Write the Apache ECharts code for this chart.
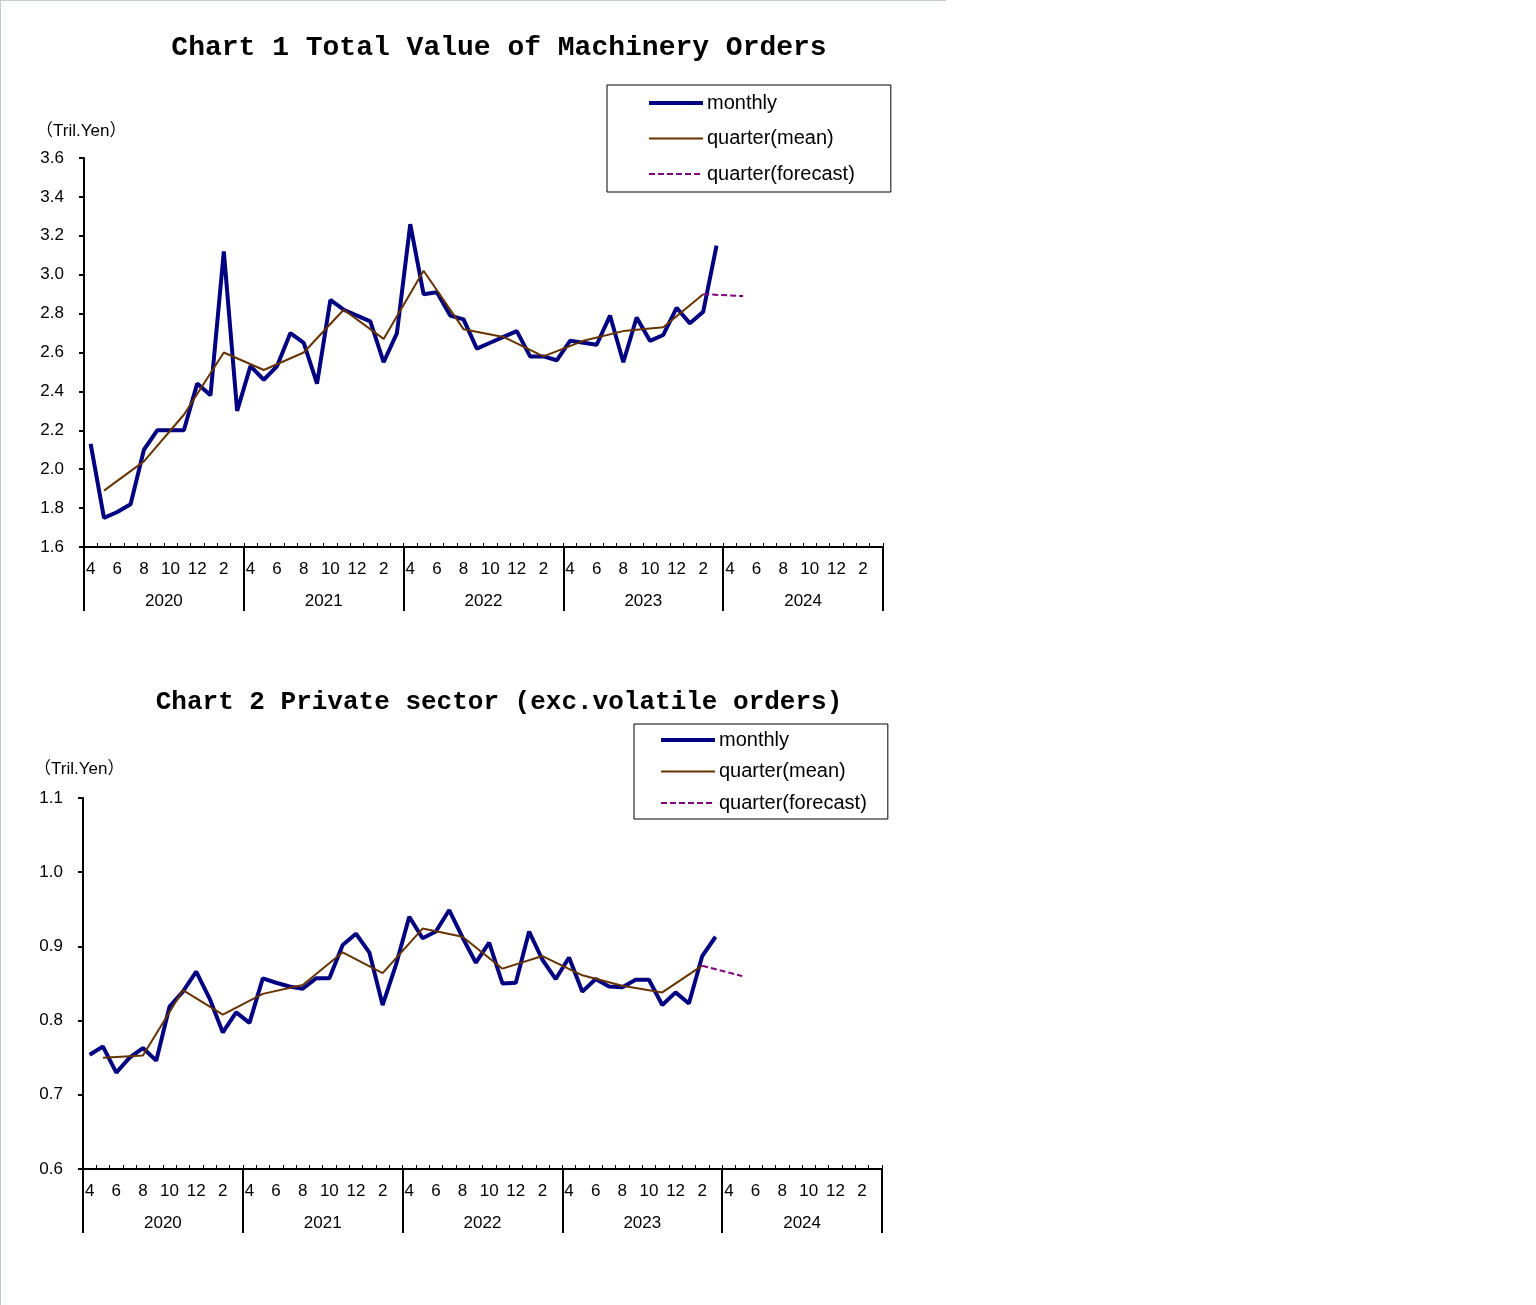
<!DOCTYPE html>
<html>
<head>
<meta charset="utf-8">
<script src="https://cdn.jsdelivr.net/npm/echarts@6/dist/echarts.min.js"></script>
<style>
html,body{margin:0;padding:0;background:#fff;}
#c{width:1536px;height:1305px;}
</style>
</head>
<body>
<div id="c"></div>
<script>
// ---- data ----
const years = ['2020', '2021', '2022', '2023', '2024'];
const monthTicks = ['4', '5', '6', '7', '8', '9', '10', '11', '12', '1', '2', '3'];

const chart1Monthly = [2.13, 1.75, 1.78, 1.82, 2.10, 2.20, 2.20, 2.20, 2.44, 2.38, 3.12, 2.30,
  2.53, 2.46, 2.53, 2.70, 2.65, 2.44, 2.87, 2.82, 2.79, 2.76, 2.55, 2.70,
  3.26, 2.90, 2.91, 2.79, 2.77, 2.62, 2.65, 2.68, 2.71, 2.58, 2.58, 2.56,
  2.66, 2.65, 2.64, 2.79, 2.55, 2.78, 2.66, 2.69, 2.83, 2.75, 2.81, 3.15];
const chart1Quarter = [1.89, 2.04, 2.28, 2.60, 2.51, 2.60, 2.82, 2.67, 3.02, 2.72, 2.68, 2.58, 2.66, 2.71, 2.73, 2.90];
const chart1Forecast = [2.90, 2.89];

const chart2Monthly = [0.754, 0.765, 0.730, 0.750, 0.763, 0.746, 0.819, 0.839, 0.866, 0.830, 0.784, 0.811,
  0.797, 0.857, 0.851, 0.846, 0.843, 0.857, 0.857, 0.902, 0.917, 0.892, 0.821, 0.875,
  0.940, 0.911, 0.920, 0.949, 0.912, 0.878, 0.905, 0.850, 0.851, 0.920, 0.882, 0.856,
  0.885, 0.839, 0.856, 0.846, 0.845, 0.855, 0.855, 0.821, 0.838, 0.823, 0.887, 0.913];
const chart2Quarter = [0.750, 0.753, 0.841, 0.808, 0.836, 0.848, 0.892, 0.864, 0.924, 0.913, 0.870, 0.887, 0.861, 0.847, 0.838, 0.874];
const chart2Forecast = [0.874, 0.860];

const titles = ['Chart 1 Total Value of Machinery Orders', 'Chart 2 Private sector (exc.volatile orders)'];
const unitLabel = '（Tril.Yen）';
const seriesNames = ['monthly', 'quarter(mean)', 'quarter(forecast)'];

// ---- build ----
const categories = [];
years.forEach(y => monthTicks.forEach(m => categories.push(y + '-' + m)));
const N = categories.length;

function monthlyArr(vals) {
  const a = new Array(N).fill(null);
  vals.forEach((v, i) => a[i] = v);
  return a;
}
function quarterArr(vals) {
  const a = new Array(N).fill(null);
  vals.forEach((v, i) => a[i * 3 + 1] = v);
  return a;
}
function forecastArr(vals, startQ) {
  const a = new Array(N).fill(null);
  vals.forEach((v, i) => a[(startQ + i) * 3 + 1] = v);
  return a;
}

const FONT = '"Liberation Sans", Arial, "Noto Sans CJK JP", sans-serif';
const lblStyle = { color: '#000', fontSize: 17, fontFamily: FONT };

const grids = [
  { left: 84, top: 158, width: 799, height: 389 },
  { left: 83, top: 798, width: 799, height: 371 }
];
const yRanges = [
  { min: 1.6, max: 3.6, interval: 0.2 },
  { min: 0.6, max: 1.1, interval: 0.1 }
];

const xAxes = [], yAxes = [], series = [];
[0, 1].forEach(g => {
  xAxes.push({
    type: 'category', gridIndex: g, data: categories, boundaryGap: true,
    axisLine: { show: true, lineStyle: { color: '#000', width: 2 } },
    axisTick: { show: true, inside: true, length: 4, interval: 0, lineStyle: { color: '#000', width: 1 } },
    axisLabel: { interval: 1, margin: 14, ...lblStyle, formatter: v => v.split('-')[1] },
    splitLine: { show: false }
  });
  xAxes.push({
    type: 'category', gridIndex: g, data: years, position: 'bottom', boundaryGap: true,
    axisLine: { show: false },
    axisTick: { show: true, length: 64, interval: 0, lineStyle: { color: '#000', width: 2 } },
    axisLabel: { margin: 46, ...lblStyle },
    splitLine: { show: false }
  });
  yAxes.push({
    type: 'value', gridIndex: g, min: yRanges[g].min, max: yRanges[g].max, interval: yRanges[g].interval,
    axisLine: { show: true, lineStyle: { color: '#000', width: 2 } },
    axisTick: { show: true, length: 5, lineStyle: { color: '#000', width: 2 } },
    axisLabel: { margin: 20, ...lblStyle, formatter: v => v.toFixed(1) },
    splitLine: { show: false }
  });
});

const sets = [
  [chart1Monthly, chart1Quarter, chart1Forecast],
  [chart2Monthly, chart2Quarter, chart2Forecast]
];
sets.forEach((s, g) => {
  series.push({
    name: seriesNames[0], type: 'line', xAxisIndex: g * 2, yAxisIndex: g,
    data: monthlyArr(s[0]), symbol: 'none', z: 3,
    lineStyle: { color: '#000080', width: 4 }, itemStyle: { color: '#000080' }
  });
  series.push({
    name: seriesNames[1], type: 'line', xAxisIndex: g * 2, yAxisIndex: g,
    data: quarterArr(s[1]), symbol: 'none', connectNulls: true, z: 4,
    lineStyle: { color: '#663300', width: 2 }, itemStyle: { color: '#663300' }
  });
  series.push({
    name: seriesNames[2], type: 'line', xAxisIndex: g * 2, yAxisIndex: g,
    data: forecastArr(s[2], 15), symbol: 'none', connectNulls: true, z: 4,
    lineStyle: { color: '#800080', width: 2, type: [6, 3] }, itemStyle: { color: '#800080' }
  });
});

const legendCommon = {
  orient: 'vertical', data: seriesNames, borderColor: '#000', borderWidth: 1,
  itemWidth: 54, itemHeight: 14, backgroundColor: '#fff',
  selectedMode: false,
  itemStyle: { opacity: 0 },
  lineStyle: { width: 'inherit', type: 'inherit', color: 'inherit' },
  textStyle: { color: '#000', fontSize: 20, fontFamily: FONT, lineHeight: 20, padding: [0, 0, 0, -1] }
};

const option = {
  backgroundColor: '#fff',
  animation: false,
  grid: grids,
  xAxis: xAxes,
  yAxis: yAxes,
  series: series,
  legend: [
    { ...legendCommon, left: 607, top: 85, padding: [8, 36, 8, 40], itemGap: 15.5 },
    { ...legendCommon, left: 634, top: 724, padding: [6, 21, 6, 25], itemGap: 11.5 }
  ],
  graphic: [
    { type: 'rect', shape: { x: 0, y: 0, width: 946, height: 1 }, style: { fill: '#c4ccc8' } },
    { type: 'rect', shape: { x: 0, y: 0, width: 1, height: 1305 }, style: { fill: '#c4ccc8' } },
    { type: 'text', x: 499, y: 48, style: { text: titles[0], textAlign: 'center', textVerticalAlign: 'middle', font: 'bold 28px "Liberation Mono", "Courier New", monospace', fill: '#000' } },
    { type: 'text', x: 499, y: 702, style: { text: titles[1], textAlign: 'center', textVerticalAlign: 'middle', font: 'bold 26px "Liberation Mono", "Courier New", monospace', fill: '#000' } },
    { type: 'text', x: 36, y: 131, style: { text: unitLabel, textAlign: 'left', textVerticalAlign: 'middle', font: '17px ' + FONT, fill: '#000' } },
    { type: 'text', x: 34, y: 769, style: { text: unitLabel, textAlign: 'left', textVerticalAlign: 'middle', font: '17px ' + FONT, fill: '#000' } }
  ]
};

const chart = echarts.init(document.getElementById('c'), null, { renderer: 'canvas' });
chart.setOption(option);
</script>
</body>
</html>
